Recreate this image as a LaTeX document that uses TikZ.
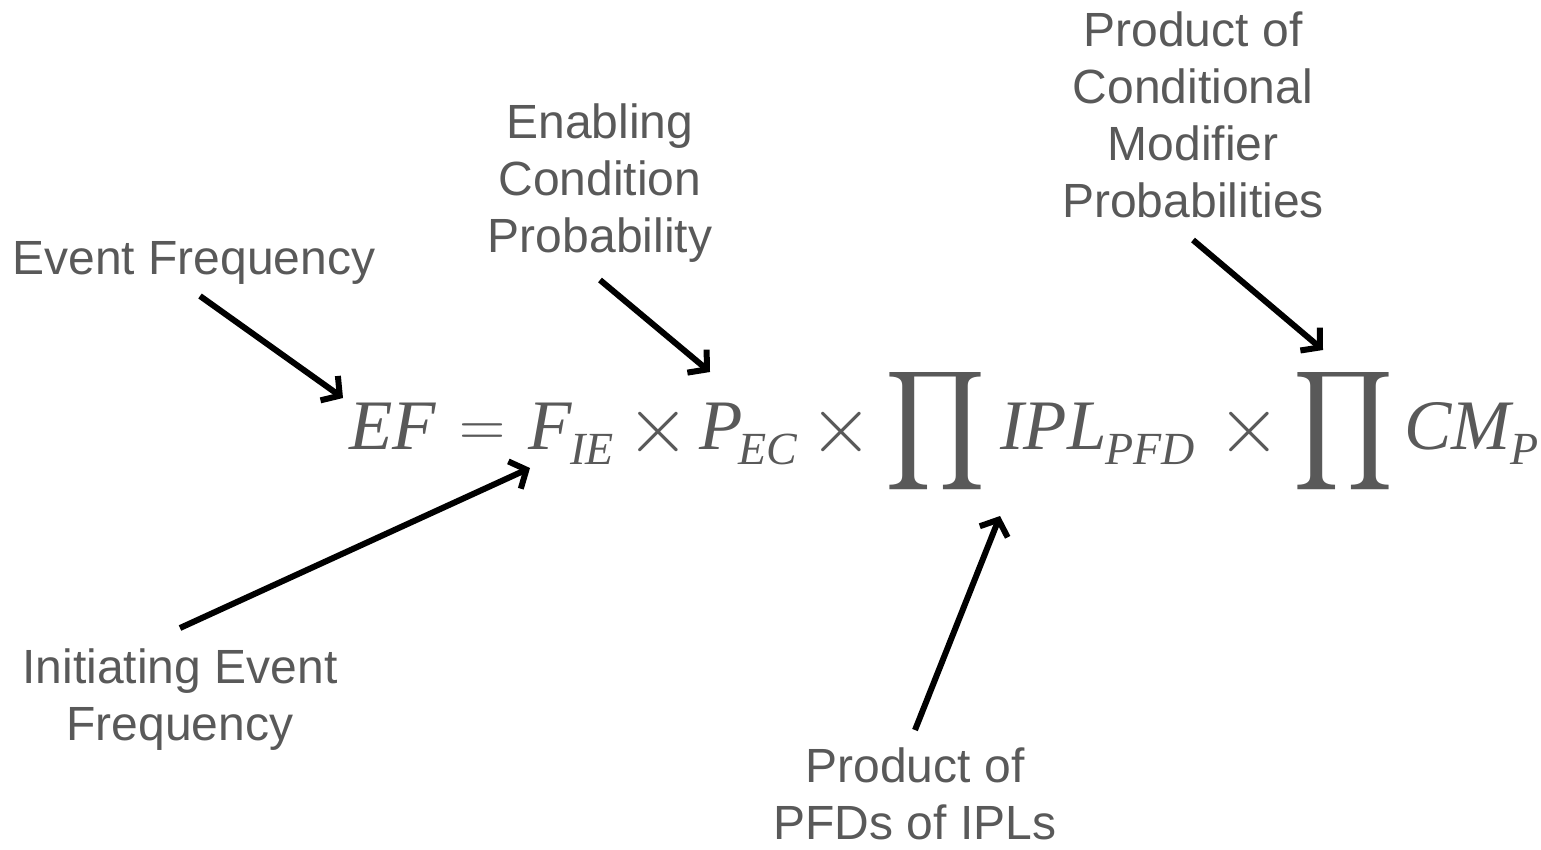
\RequirePackage{fix-cm}
\documentclass[tikz,border=0pt]{standalone}
\usepackage{fontspec}
\usepackage{graphicx}
\setmainfont{Liberation Sans}
\newfontfamily\eqfont{Liberation Serif}
\usetikzlibrary{arrows.meta}
\definecolor{txtgray}{HTML}{595959}
\newcommand\sbs[1]{\kern-1pt\raisebox{-15pt}{\fontsize{46}{46}\selectfont #1}}
\tikzset{
  lbl/.style={text=txtgray, align=center, inner sep=0pt, font=\fontsize{48}{57}\selectfont},
  term/.style={text=txtgray, inner sep=0pt, anchor=base west, font=\eqfont\itshape\fontsize{71}{71}\selectfont},
  opsym/.style={text=txtgray, inner sep=0pt, anchor=base},
  bigp/.style={text=txtgray, inner sep=0pt, anchor=center},
  arr/.style={draw=black, line width=6pt, -{Straight Barb[length=13pt,width=30pt]}}
}
\begin{document}
\begin{tikzpicture}[x=1pt,y=-1pt]
\useasboundingbox (0,0) rectangle (1541,849);
% equation
\node[term] (tEF) at (349,449) {EF};
\node[opsym, font=\fontsize{64}{64}\selectfont] (eqs) at (482.5,446) {$=$};
\node[term] (tF) at (528,449) {F\sbs{IE}};
\node[opsym, font=\fontsize{82}{82}\selectfont] (x1) at (658,452) {$\times$};
\node[term] (tP) at (699,449) {P\kern-3pt\sbs{EC}};
\node[opsym, font=\fontsize{82}{82}\selectfont] (x2) at (841.5,452) {$\times$};
\node[bigp] (p1) at (936,431) {\resizebox*{100pt}{134pt}{$\displaystyle\prod$}};
\node[term] (tIPL) at (1000,449) {IPL\sbs{PFD}};
\node[opsym, font=\fontsize{82}{82}\selectfont] (x3) at (1249.5,452) {$\times$};
\node[bigp] (p2) at (1343,431) {\resizebox*{100pt}{134pt}{$\displaystyle\prod$}};
\node[term] (tCM) at (1404,449) {CM\kern1pt\sbs{P}};
% labels
\node[lbl] (ef) at (194,263) {Event Frequency};
\node[lbl] (ec) at (600,183) {Enabling\\Condition\\Probability};
\node[lbl] (cm) at (1193,115) {Product of\\Conditional\\Modifier\\Probabilities};
\node[lbl] (ie) at (180,700) {Initiating Event\\Frequency};
\node[lbl] (pfd) at (915,794) {Product of\\PFDs of IPLs};
% arrows
\coordinate (a1s) at (200,296); \coordinate (a1e) at (343,398);
\coordinate (a2s) at (600,280); \coordinate (a2e) at (710,372);
\coordinate (a3s) at (180,628); \coordinate (a3e) at (530,468);
\coordinate (a4s) at (915,730); \coordinate (a4e) at (1000,516);
\coordinate (a5s) at (1193,240); \coordinate (a5e) at (1323,350);
\draw[arr] (a1s) -- (a1e);
\draw[arr] (a2s) -- (a2e);
\draw[arr] (a3s) -- (a3e);
\draw[arr] (a4s) -- (a4e);
\draw[arr] (a5s) -- (a5e);
\end{tikzpicture}
\end{document}
